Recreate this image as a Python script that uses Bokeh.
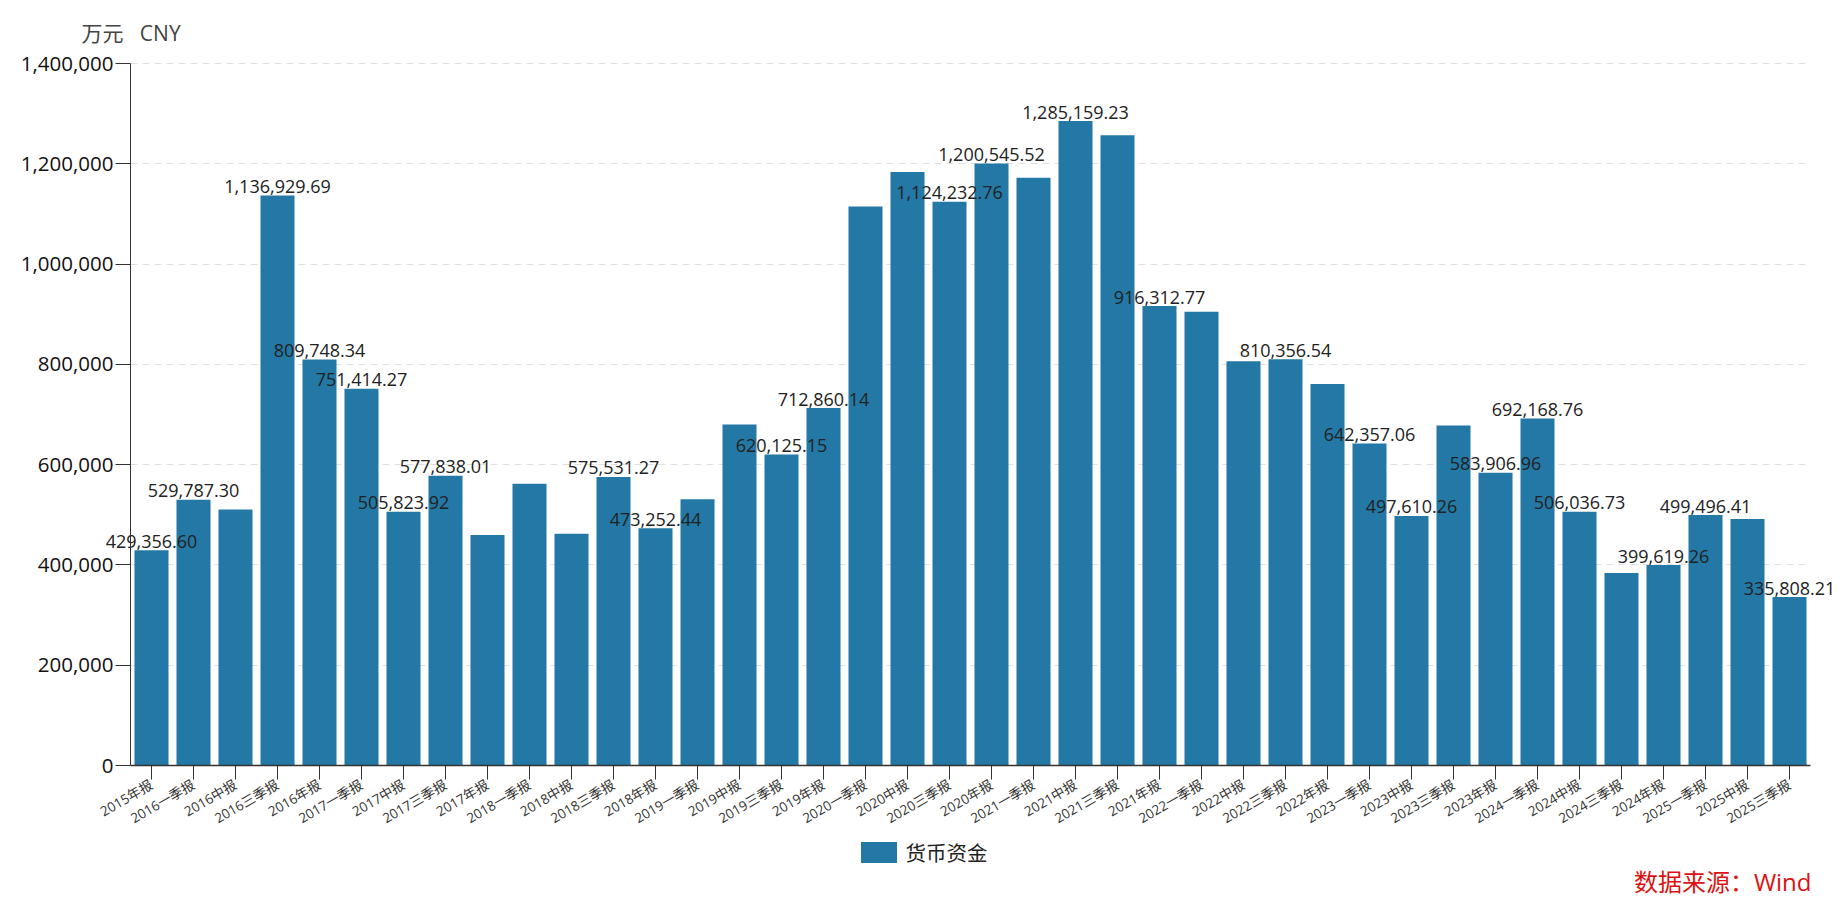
import math
from bokeh.plotting import figure
from bokeh.models import (Range1d, FixedTicker, NumeralTickFormatter, Label,
                          Legend, LegendItem, ColumnDataSource)
from bokeh.core.properties import value
from bokeh.embed import file_html
from bokeh.resources import INLINE

categories = [
    "2015年报", "2016一季报", "2016中报", "2016三季报", "2016年报",
    "2017一季报", "2017中报", "2017三季报", "2017年报", "2018一季报",
    "2018中报", "2018三季报", "2018年报", "2019一季报", "2019中报",
    "2019三季报", "2019年报", "2020一季报", "2020中报", "2020三季报",
    "2020年报", "2021一季报", "2021中报", "2021三季报", "2021年报",
    "2022一季报", "2022中报", "2022三季报", "2022年报", "2023一季报",
    "2023中报", "2023三季报", "2023年报", "2024一季报", "2024中报",
    "2024三季报", "2024年报", "2025一季报", "2025中报", "2025三季报",
]
money_funds = [
    429356.60, 529787.30, 510400.00, 1136929.69, 809748.34,
    751414.27, 505823.92, 577838.01, 459500.00, 562000.00,
    462300.00, 575531.27, 473252.44, 531000.00, 680000.00,
    620125.15, 712860.14, 1115000.00, 1183600.00, 1124232.76,
    1200545.52, 1172300.00, 1285159.23, 1257000.00, 916312.77,
    905000.00, 806000.00, 810356.54, 761000.00, 642357.06,
    497610.26, 678000.00, 583906.96, 692168.76, 506036.73,
    384000.00, 399619.26, 499496.41, 491500.00, 335808.21,
]
# which bars carry a visible value label in the reference
label_shown = [
    1, 1, 0, 1, 1, 1, 1, 1, 0, 0,
    0, 1, 1, 0, 0, 1, 1, 0, 0, 1,
    1, 0, 1, 0, 1, 0, 0, 1, 0, 1,
    1, 0, 1, 1, 1, 0, 1, 1, 0, 1,
]
y_ticks = [0, 200000, 400000, 600000, 800000, 1000000, 1200000, 1400000]
y_max = 1400000
series_name = "货币资金"
unit_name = "万元\u00a0\u00a0\u00a0CNY"
source_text = "数据来源：Wind"

FONT = "'Open Sans', 'Noto Sans CJK SC', sans-serif"
BAR_COLOR = "#2378a5"

# ---- layout (pixels) ----
W, H = 1848, 912
PLOT_L, PLOT_R, PLOT_T, PLOT_B = 130, 1810, 63, 765
n = len(categories)
step = (PLOT_R - PLOT_L) / n
x_lo = -0.5 - PLOT_L / step
x_hi = n - 0.5 + (W - PLOT_R) / step
upp = y_max / (PLOT_B - PLOT_T)          # data units per pixel
y_lo = -(H - PLOT_B) * upp
y_hi = y_max + PLOT_T * upp

p = figure(width=W, height=H, x_range=Range1d(x_lo, x_hi),
           y_range=Range1d(y_lo, y_hi), output_backend="svg",
           toolbar_location=None, min_border=0)
p.outline_line_color = None
p.background_fill_color = "white"
p.border_fill_color = "white"

idx = list(range(n))
src = ColumnDataSource(dict(x=idx, val=money_funds))
bars = p.vbar(x="x", top="val", width=0.81, source=src,
              fill_color=BAR_COLOR, line_color=None)

lab_x = [i for i, s in zip(idx, label_shown) if s]
lab_vals = [v for v, s in zip(money_funds, label_shown) if s]
lab_txt = ["{:,.2f}".format(v) for v in lab_vals]
p.text(x=lab_x, y=lab_vals, text=lab_txt, text_align="center",
       text_baseline="alphabetic", y_offset=-9,
       text_font=value(FONT), text_font_size="18px", text_color="#222222")

# grid
p.xgrid.grid_line_color = None
p.ygrid.grid_line_color = "#e0e0e0"
p.ygrid.grid_line_dash = "7 5"
p.ygrid.grid_line_width = 1
p.ygrid.ticker = FixedTicker(ticks=y_ticks[1:])
p.ygrid.bounds = (0, y_max)
p.ygrid.cross_bounds = (-0.5, n - 0.5)

# y axis
yax = p.yaxis[0]
yax.fixed_location = -0.5
yax.bounds = (0, y_max)
yax.ticker = FixedTicker(ticks=y_ticks)
yax.formatter = NumeralTickFormatter(format="0,0")
yax.axis_line_color = "#333333"
yax.major_tick_line_color = "#333333"
yax.major_tick_out = 15
yax.major_tick_in = 0
yax.minor_tick_line_color = None
yax.major_label_standoff = 2
yax.major_label_text_font = FONT
yax.major_label_text_font_size = "20.5px"
yax.major_label_text_color = "#111111"

# x axis
xax = p.xaxis[0]
xax.fixed_location = 0
xax.bounds = (-0.5, n - 0.5)
xax.ticker = FixedTicker(ticks=idx)
xax.major_label_overrides = {i: c for i, c in zip(idx, categories)}
xax.axis_line_color = "#333333"
xax.axis_line_width = 1.5
xax.major_tick_line_color = "#333333"
xax.major_tick_out = 14
xax.major_tick_in = 0
xax.minor_tick_line_color = None
xax.major_label_orientation = math.pi / 6
xax.major_label_standoff = 4
xax.major_label_text_font = FONT
xax.major_label_text_font_size = "13.5px"
xax.major_label_text_color = "#333333"

# unit name (top-left)
p.add_layout(Label(x=81, y=H - 32.5, x_units="screen", y_units="screen",
                   text=unit_name, text_align="left", text_baseline="middle",
                   text_font=FONT, text_font_size="21px",
                   text_color="#444444"))

# data source (bottom-right)
p.add_layout(Label(x=1811, y=H - 881, x_units="screen", y_units="screen",
                   text=source_text, text_align="right",
                   text_baseline="middle", text_font=FONT,
                   text_font_size="24px", text_color="#dd1111"))

legend = Legend(items=[LegendItem(label=series_name, renderers=[bars])],
                location=(855.5, H - 867), orientation="horizontal",
                glyph_width=45, glyph_height=26, label_standoff=5,
                padding=0, margin=0, spacing=0,
                border_line_color=None, background_fill_alpha=0,
                label_text_font=FONT, label_text_font_size="20.5px",
                label_text_color="#222222", label_text_baseline="middle")
p.add_layout(legend)

open("out.html", "w").write(file_html(p, INLINE))
